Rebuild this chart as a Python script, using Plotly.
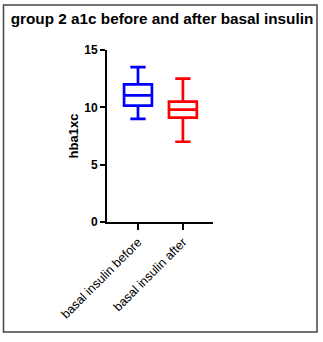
import plotly.graph_objects as go

categories = ["basal insulin before", "basal insulin after"]
lower_whisker = [9.0, 7.0]
q1_vals = [10.15, 9.1]
medians = [11.05, 9.8]
q3_vals = [12.0, 10.5]
upper_whisker = [13.5, 12.5]
colors = ["#0000ff", "#ff0000"]
y_ticks = [0, 5, 10, 15]

W, H = 323, 342
L, R, T, B = 107, 110, 50, 120
pw = W - L - R
ph = H - T - B

fig = go.Figure()
for i, cat in enumerate(categories):
    fig.add_trace(go.Box(
        x=[cat], q1=[q1_vals[i]], median=[medians[i]], q3=[q3_vals[i]],
        lowerfence=[lower_whisker[i]], upperfence=[upper_whisker[i]],
        line=dict(color=colors[i], width=2.7), fillcolor="white",
        width=0.62, whiskerwidth=0.55, boxpoints=False, showlegend=False,
    ))

def px_x(p):
    return (p - L) / pw

def px_y(p):
    return (H - B - p) / ph

fig.add_shape(type="rect", xref="paper", yref="paper",
              x0=px_x(3.5), x1=px_x(317), y0=px_y(332), y1=px_y(5),
              line=dict(color="#444444", width=1.5), fillcolor="rgba(0,0,0,0)", layer="below")

fig.update_layout(
    width=W, height=H,
    margin=dict(l=L, r=R, t=T, b=B, pad=0),
    paper_bgcolor="white", plot_bgcolor="white",
    font=dict(family="Liberation Sans, Arial, sans-serif", color="black"),
    title=dict(text="<b>group 2 a1c before and after basal insulin</b>",
               x=0.5, xref="paper", xanchor="center",
               y=1 - 19 / H, yanchor="middle", yref="container",
               font=dict(size=15.3, color="black")),
)
fig.layout.title.x = px_x(162)
fig.update_xaxes(
    type="category", range=[-0.69, 1.67],
    showline=True, linecolor="black", linewidth=2,
    ticks="outside", ticklen=6, tickwidth=2, tickcolor="black",
    tickangle=-45, tickfont=dict(size=12.5, color="black"),
    showgrid=False, zeroline=False,
)
fig.update_yaxes(
    range=[0, 15], tickvals=y_ticks,
    ticktext=[f"<b>{v}</b>" for v in y_ticks],
    showline=True, linecolor="black", linewidth=2,
    ticks="outside", ticklen=5, tickwidth=2, tickcolor="black",
    tickfont=dict(size=12, color="black"),
    title=dict(text="<b>hba1xc</b>", font=dict(size=13, color="black"), standoff=3),
    showgrid=False, zeroline=False,
)

fig.write_html("out.html")
